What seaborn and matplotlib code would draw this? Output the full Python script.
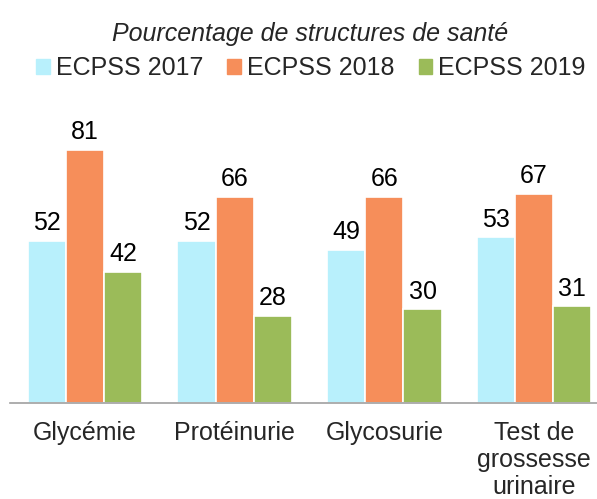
import pandas as pd
import matplotlib.pyplot as plt
import seaborn as sns

categories = ['Glycémie', 'Protéinurie', 'Glycosurie', 'Test de\ngrossesse\nurinaire']
series = ['ECPSS 2017', 'ECPSS 2018', 'ECPSS 2019']
v2017 = [52, 52, 49, 53]
v2018 = [81, 66, 66, 67]
v2019 = [42, 28, 30, 31]
colors = ['#B8F0FC', '#F68E5A', '#9BBB59']

data = pd.DataFrame({
    'cat': categories * 3,
    'serie': [s for s in series for _ in categories],
    'val': v2017 + v2018 + v2019,
})

sns.set_style('white')
plt.rcParams['font.family'] = ['Liberation Sans', 'DejaVu Sans']

fig = plt.figure(figsize=(5.97, 4.99), dpi=100)
ax = fig.add_axes([10 / 597, 1 - 403 / 499, 587 / 597, 0.5635])

sns.barplot(data=data, x='cat', y='val', hue='serie', palette=colors, saturation=1,
            width=0.765, edgecolor='white', linewidth=1.2, ax=ax, legend=False)

for cont in ax.containers:
    ax.bar_label(cont, fontsize=18, padding=4, color='black')

ax.set_ylim(0, 90)
ax.set_xlim(-0.5, 3.42)
ax.set_xlabel('')
ax.set_ylabel('')
ax.set_yticks([])
for s in ['top', 'left', 'right']:
    ax.spines[s].set_visible(False)
ax.spines['bottom'].set_color('#A0A0A0')
ax.spines['bottom'].set_linewidth(1.2)
ax.tick_params(axis='x', length=0, labelsize=18, pad=13)
for t in ax.get_xticklabels():
    t.set_linespacing(1.15)
    t.set_verticalalignment('top')

fig.text(310 / 597, 1 - 34 / 499, 'Pourcentage de structures de santé', ha='center', va='center',
         fontsize=18, style='italic')

handles = [plt.Rectangle((0, 0), 1, 1, color=c) for c in colors]
fig.legend(handles, series, loc='center', bbox_to_anchor=(311 / 597, 1 - 68 / 499), ncol=3,
           frameon=False, fontsize=18, handlelength=0.55, handleheight=0.55,
           handletextpad=0.25, columnspacing=0.95, borderaxespad=0, borderpad=0)

fig.savefig('out.png', dpi=100)
